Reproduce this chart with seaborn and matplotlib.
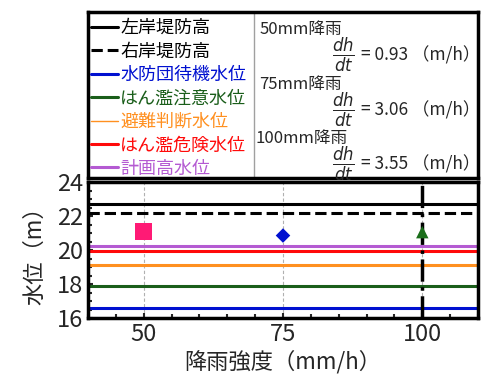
import matplotlib
matplotlib.use("Agg")
import matplotlib.pyplot as plt
import seaborn as sns
import pandas as pd
from matplotlib.lines import Line2D
from matplotlib.ticker import MultipleLocator

# 設定繪圖風格
sns.set_style("ticks")
plt.rcParams['font.family'] = ['Noto Sans CJK JP', 'DejaVu Sans']
plt.rcParams['mathtext.fontset'] = 'dejavusans'

# 基準水位 (m)
level_names = ['左岸堤防高', '右岸堤防高', '水防団待機水位', 'はん濫注意水位',
               '避難判断水位', 'はん濫危険水位', '計画高水位']
level_values = [22.7, 22.15, 16.6, 17.9, 19.1, 19.95, 20.25]
level_colors = ['black', 'black', '#0010d0', '#1a5e1a', '#ff9020', '#ff0a0a', '#b45ad2']
level_styles = ['-', '--', '-', '-', '-', '-', '-']

# 降雨強度別の最高水位
rain_x = [50, 75, 100]
peak_y = [21.1, 20.85, 21.05]
peak_marker = ['s', 'D', '^']
peak_color = ['#ff1a75', '#0010d0', '#1a6e1a']
peak_size = [150, 55, 80]

# 水位上昇速度 dh/dt (m/h)
rain_labels = ['50mm降雨', '75mm降雨', '100mm降雨']
dhdt = [0.93, 3.06, 3.55]

fig = plt.figure(figsize=(4.83, 3.81), dpi=100)
ax = fig.add_axes([88/483, 63/381, 390/483, 136/381])

for v, c, ls in zip(level_values, level_colors, level_styles):
    ax.axhline(v, color=c, ls=ls, lw=2.2, zorder=2)

ax.axvline(100, color='black', ls='-.', lw=2.5, zorder=3)

df = pd.DataFrame({'x': rain_x, 'y': peak_y, 'k': rain_labels})
for i, row in df.iterrows():
    sns.scatterplot(x=[row['x']], y=[row['y']], marker=peak_marker[i], color=peak_color[i],
                    s=peak_size[i], edgecolor='none', ax=ax, zorder=4, legend=False)

ax.set_xlim(40, 110)
ax.set_ylim(16, 24)
ax.set_xticks(rain_x)
ax.set_yticks([16, 18, 20, 22, 24])
ax.yaxis.set_minor_locator(MultipleLocator(0.5))
ax.xaxis.set_minor_locator(MultipleLocator(5))
ax.tick_params(direction='in', which='both', labelsize=17, width=1.5)
ax.tick_params(which='minor', length=3)
ax.grid(axis='x', color='#b0b0b0', ls=(0, (3, 2)), lw=0.8)
for s in ax.spines.values():
    s.set_linewidth(2.5)
    s.set_color('black')
ax.set_xlabel('降雨強度（mm/h）', fontsize=16, labelpad=3)
ax.set_ylabel('水位（m）', fontsize=16, labelpad=8)

# 凡例ボックス
box = fig.add_axes([88/483, 203/381, 390/483, 166/381])
box.set_xlim(0, 1)
box.set_ylim(0, 1)
box.set_xticks([])
box.set_yticks([])
for s in box.spines.values():
    s.set_linewidth(2.5)
    s.set_color('black')
box.axvline(0.426, color='#a0a0a0', lw=1)

handles = [Line2D([], [], color=c, ls=ls, lw=2.2 if n != '避難判断水位' else 1)
           for n, c, ls in zip(level_names, level_colors, level_styles)]
box.legend(handles, level_names, loc='upper left', bbox_to_anchor=(-0.01, 1.0),
           frameon=False, fontsize=13, labelcolor=level_colors,
           handlelength=1.5, handletextpad=0.1, labelspacing=0.3, borderaxespad=0)

ys = [0.895, 0.565, 0.235]
for lab, v, y in zip(rain_labels, dhdt, ys):
    box.text(0.44 if lab != '100mm降雨' else 0.43, y, lab, fontsize=12, va='center', ha='left')
    box.text(0.655, y - 0.155, r'$\frac{dh}{dt}$', fontsize=17, va='center', ha='center')
    box.text(0.70, y - 0.155, f'= {v:.2f} （m/h）', fontsize=12.5, va='center', ha='left')

fig.savefig('out.png', dpi=100)
